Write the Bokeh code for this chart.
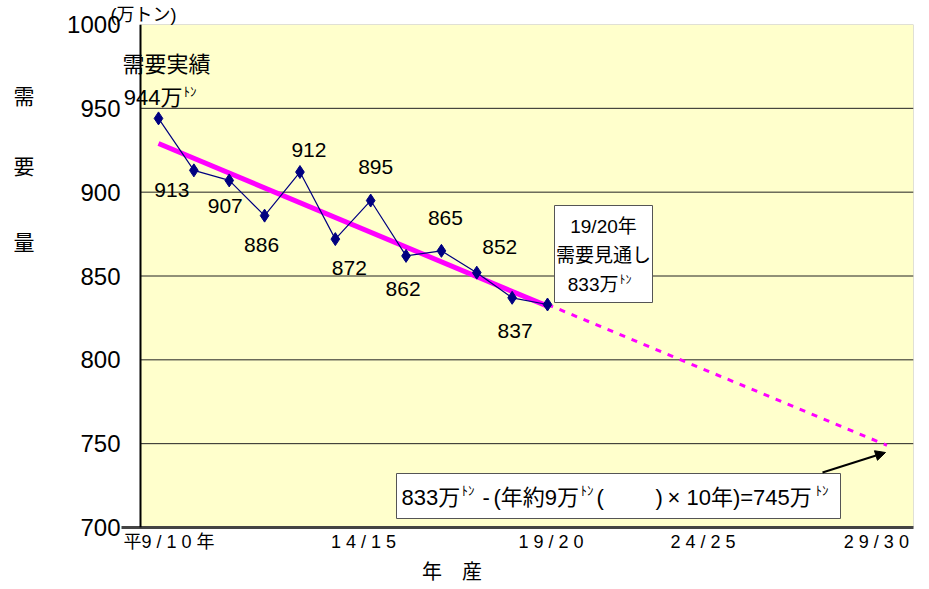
from bokeh.plotting import figure
from bokeh.models import (Range1d, FixedTicker, Label, Arrow, NormalHead, ColumnDataSource,
                          BoxAnnotation, Span, LinearAxis, Title)
from bokeh.core.properties import value
from bokeh.embed import file_html
from bokeh.resources import INLINE

# ---- data ----
years = [8, 9, 10, 11, 12, 13, 14, 15, 16, 17, 18, 19]
demand = [944, 913, 907, 886, 912, 872, 895, 862, 865, 852, 837, 833]
trend_x = [8, 19]
trend_y = [929, 832]
proj_x = [19, 28.6]
proj_y = [833, 749]
tick_pos = [8.3, 13.8, 19.1, 23.4, 28.3]
tick_labels = ["平9 / 1 0 年", "1 4 / 1 5", "1 9 / 2 0", "2 4 / 2 5", "2 9 / 3 0"]
y_ticks = [700, 750, 800, 850, 900, 950, 1000]
grid_vals = [750, 800, 850, 900, 950]

# label offsets (pixels) for point values
lab_dx = [0, -22, -4, -3, 9, 14, 5, -3, 4, 23, 3, 0]
lab_dy = [0, 20, 26, 29, -22, 29, -34, 33, -33, -26, 33, 0]

JP = "Noto Sans CJK JP"
AR = "Liberation Sans"
MIX = "Liberation Sans, Noto Sans CJK JP"

# ref-pixel geometry
FL, FR, FT, FB = 121, 913, 24, 527
AX = 140  # visible y-axis line
PPY = (547 - 158) / 11.0
X0 = 8 - (158 - FL) / PPY
X1 = 8 + (FR - 158) / PPY
Y0, Y1 = 700, 1000

def X(px):
    return X0 + (px - FL) / (FR - FL) * (X1 - X0)

def Y(py):
    return Y1 - (py - FT) / (FB - FT) * (Y1 - Y0)

W, H = 921, 587
p = figure(width=W, height=H, output_backend="svg", toolbar_location=None,
           x_range=Range1d(X0, X1), y_range=Range1d(Y0, Y1),
           min_border_left=FL, min_border_right=W - FR,
           min_border_top=FT, min_border_bottom=H - FB)
p.background_fill_color = "white"
p.border_fill_color = "white"
p.outline_line_color = None
p.xgrid.visible = False
p.ygrid.visible = False

# plot area
p.add_layout(BoxAnnotation(left=X(AX), right=X1, bottom=Y0, top=Y1,
                           fill_color="#FFFFCC", fill_alpha=1.0,
                           line_color="#333333", line_width=1, level="underlay"))
p.segment(x0=[X(AX)] * len(grid_vals), x1=[X1] * len(grid_vals), y0=grid_vals,
          y1=grid_vals, line_color="#222222", line_width=1)

p.yaxis.ticker = FixedTicker(ticks=y_ticks)
p.yaxis.axis_line_color = None
p.yaxis.major_tick_line_color = None
p.yaxis.major_tick_out = 0
p.yaxis.major_tick_in = 0
p.yaxis.minor_tick_line_color = None
p.yaxis.minor_tick_out = 0
p.yaxis.major_label_text_font = AR
p.yaxis.major_label_text_font_size = "24px"
p.yaxis.major_label_text_color = "black"
p.yaxis.major_label_standoff = 1

p.xaxis.ticker = FixedTicker(ticks=tick_pos)
p.xaxis.major_label_overrides = {t: l for t, l in zip(tick_pos, tick_labels)}
p.xaxis.axis_line_color = "#444444"
p.xaxis.axis_line_width = 3
p.xaxis.major_tick_line_color = None
p.xaxis.major_tick_out = 0
p.xaxis.major_tick_in = 0
p.xaxis.minor_tick_line_color = None
p.xaxis.minor_tick_out = 0
p.xaxis.major_label_text_font = MIX
p.xaxis.major_label_text_font_size = "18px"
p.xaxis.major_label_text_color = "black"
p.xaxis.major_label_standoff = 4

p.add_layout(Span(location=X(AX), dimension="height", line_color="black", line_width=2))

# y title as extra axis
yt_pos = [958, 916, 871]
yt = LinearAxis(ticker=FixedTicker(ticks=yt_pos),
                major_label_overrides={v: c for v, c in zip(yt_pos, ["需", "要", "量"])},
                axis_line_color=None, major_tick_line_color=None, minor_tick_line_color=None,
                major_tick_out=0, minor_tick_out=0,
                major_label_text_font=JP, major_label_text_font_size="21px",
                major_label_text_color="black", major_label_standoff=30)
p.add_layout(yt, "left")

# x title as extra axis
xt_pos = [round(X(452), 1)]
xt = LinearAxis(ticker=FixedTicker(ticks=xt_pos), major_label_overrides={xt_pos[0]: "年　産"},
                axis_line_color=None, major_tick_line_color=None, minor_tick_line_color=None,
                major_tick_out=0, minor_tick_out=0,
                major_label_text_font=MIX, major_label_text_font_size="20px",
                major_label_text_color="black", major_label_standoff=6)
p.add_layout(xt, "below")

# unit title
p.add_layout(Title(text="(万トン)", align="left", offset=-11, text_font=MIX,
                   text_font_size="18px", text_font_style="normal", standoff=0,
                   text_color="black"), "above")

# trend & projection
p.line(trend_x, trend_y, line_color="#FF00FF", line_width=5)
p.line(proj_x, proj_y, line_color="#FF00FF", line_width=3, line_dash="6 7")

# actual demand
src = ColumnDataSource(dict(x=years, y=demand))
p.line("x", "y", source=src, line_color="#000080", line_width=1.2)
p.scatter("x", "y", source=src, marker="diamond", size=13, fill_color="#000080",
          line_color="#000080")

lab_src = ColumnDataSource(dict(x=years[1:-1], y=demand[1:-1],
                                t=[str(v) for v in demand[1:-1]],
                                dx=lab_dx[1:-1], dy=lab_dy[1:-1]))
p.text("x", "y", text="t", x_offset="dx", y_offset="dy", source=lab_src,
       text_font=value(AR), text_font_size="21px", text_align="center",
       text_baseline="middle", text_color="black")

def lab(px, py, text, size="19px", align="center", font=MIX, baseline="middle"):
    p.add_layout(Label(x=X(px), y=Y(py), text=text, text_font=font,
                       text_font_size=size, text_align=align,
                       text_baseline=baseline, text_color="black"))

# first point annotation
lab(166, 64, "需要実績", "22px")
lab(182, 97, "944万", "22px", align="right")
lab(183, 91, "ﾄﾝ", "13px", align="left")

# forecast box
p.rect(x=[X(603)], y=[Y(253.5)], width=98, height=97, width_units="screen",
       height_units="screen", fill_color="white", line_color="#555555", line_width=1)
lab(603, 226, "19/20年", "19px")
lab(603, 255, "需要見通し", "19px")
lab(618, 284, "833万", "19px", align="right")
lab(619, 279, "ﾄﾝ", "12px", align="left")

# formula box
p.rect(x=[X(618)], y=[Y(495.5)], width=444, height=45, width_units="screen",
       height_units="screen", fill_color="white", line_color="#555555", line_width=1)
segs = [("833万", 22, 401), ("ﾄﾝ", 13, 461), ("-", 22, 482), ("(年約9万", 22, 493),
        ("ﾄﾝ", 13, 580), ("(", 22, 596), (")", 22, 655), ("× 10年)=745万", 22, 667),
        ("ﾄﾝ", 13, 815)]
for t, s, x in segs:
    lab(x, 497 if s > 13 else 490, t, f"{s}px", align="left")

p.add_layout(Arrow(end=NormalHead(size=10, fill_color="black", line_color="black"),
                   x_start=X(822), y_start=Y(472), x_end=X(885), y_end=Y(452),
                   line_color="black", line_width=2))

open("out.html", "w").write(file_html(p, INLINE))
